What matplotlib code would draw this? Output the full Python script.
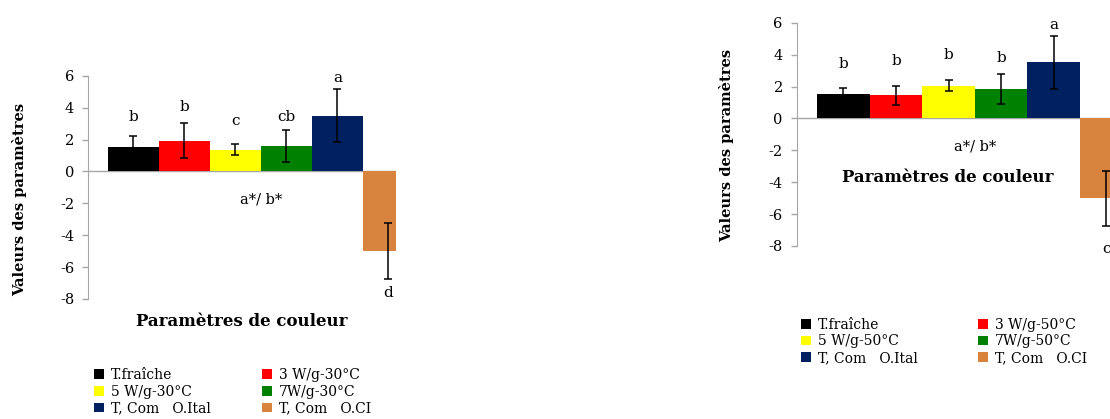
import matplotlib
matplotlib.use("Agg")
import matplotlib.pyplot as plt
from matplotlib.patches import Patch

plt.rcParams['font.family'] = ['DejaVu Serif']
plt.rcParams['axes.unicode_minus'] = False

colors = ['#000000', '#FF0000', '#FFFF00', '#008000', '#002060', '#D8843F']
category = 'a*/ b*'

# panneau gauche (30°C)
names_30 = ['T.fraîche', '3 W/g-30°C', '5 W/g-30°C', '7W/g-30°C', 'T, Com   O.Ital', 'T, Com   O.CI']
vals_30 = [1.52, 1.92, 1.36, 1.58, 3.50, -4.98]
errs_30 = [0.72, 1.10, 0.36, 1.00, 1.65, 1.75]
lett_30 = ['b', 'b', 'c', 'cb', 'a', 'd']
lett_y_30 = [3.43, 4.06, 3.18, 3.43, 5.87, -7.6]

# panneau droit (50°C)
names_50 = ['T.fraîche', '3 W/g-50°C', '5 W/g-50°C', '7W/g-50°C', 'T, Com   O.Ital', 'T, Com   O.CI']
vals_50 = [1.53, 1.45, 2.05, 1.84, 3.51, -5.02]
errs_50 = [0.35, 0.58, 0.36, 0.96, 1.64, 1.75]
lett_50 = ['b', 'b', 'b', 'b', 'a', 'c']
lett_y_50 = [3.41, 3.62, 3.97, 3.79, 5.87, -8.2]

grey = '#A6A6A6'

fig = plt.figure(figsize=(11.1, 4.19), dpi=100)


def panel(rect, vals, errs, letters, lett_y, xmax):
    ax = fig.add_axes(rect)
    x = list(range(len(vals)))
    ax.bar(x, vals, width=1.0, color=colors, edgecolor='none')
    ax.errorbar(x, vals, yerr=errs, fmt='none', ecolor='black', elinewidth=1.1,
                capsize=3, capthick=1.1)
    for xi, l, ly in zip(x, letters, lett_y):
        ax.text(xi, ly, l, ha='center', va='center', fontsize=11)
    ax.set_xlim(-0.89, xmax)
    ax.set_ylim(-8, 6)
    ax.set_yticks(range(-8, 7, 2))
    ax.tick_params(axis='y', labelsize=10.5, color=grey, length=4, width=1, pad=6)
    ax.set_xticks([])
    for s in ['top', 'right', 'bottom']:
        ax.spines[s].set_visible(False)
    ax.spines['left'].set_color(grey)
    ax.axhline(0, color=grey, lw=1, zorder=0.5)
    ax.text(2.5, -1.78, category, ha='center', va='center', fontsize=10.5)
    ax.patch.set_alpha(0)
    ax.set_ylabel('Valeurs des paramètres', fontsize=10.5, fontweight='bold')
    return ax


def legend(ax, names, anchor, colsp):
    h = [Patch(facecolor=c, edgecolor='none') for c in colors]
    order = [0, 2, 4, 1, 3, 5]
    ax.legend([h[i] for i in order], [names[i] for i in order], ncol=2, frameon=False,
              loc='upper left', bbox_to_anchor=anchor, bbox_transform=fig.transFigure,
              fontsize=10, handlelength=0.7, handleheight=0.7, handletextpad=0.5,
              labelspacing=0.2, columnspacing=colsp, borderpad=0, borderaxespad=0)


ax1 = panel([0.0793, 0.2864, 0.2775, 0.5329], vals_30, errs_30, lett_30, lett_y_30, 5.15)
ax1.yaxis.set_label_coords(-0.198, 0.448)
ax1.set_xlabel('Paramètres de couleur', fontsize=12, fontweight='bold', labelpad=10)
legend(ax1, names_30, (0.085, 0.122), 3.7)

ax2 = panel([0.7177, 0.4129, 0.3183, 0.5329], vals_50, errs_50, lett_50, lett_y_50, 5.83)
ax2.yaxis.set_label_coords(-0.177, 0.452)
ax2.text(1.98, -3.7, 'Paramètres de couleur', ha='center', va='center', fontsize=12,
         fontweight='bold')
legend(ax2, names_50, (0.722, 0.242), 4.35)

fig.savefig('out.png', dpi=100)
